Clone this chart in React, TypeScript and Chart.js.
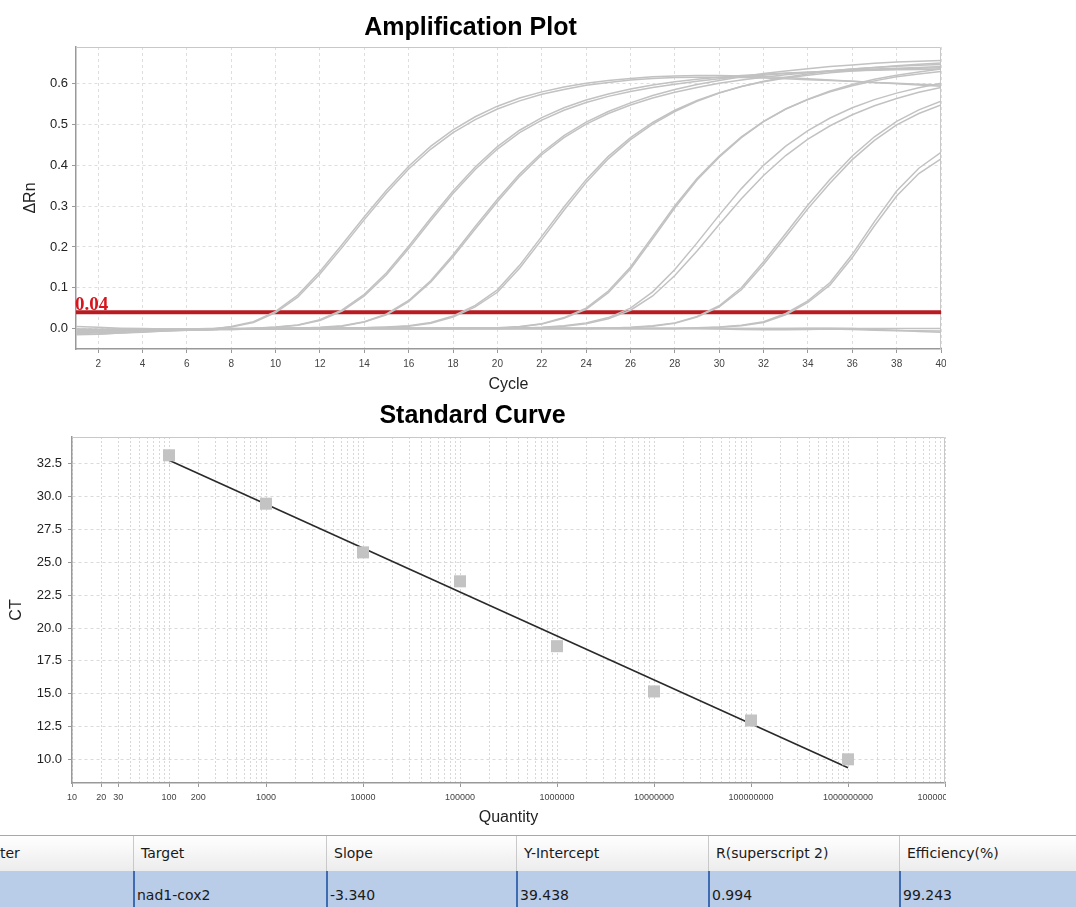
import React, { useEffect, useRef } from 'react';
import { Chart, registerables } from 'chart.js';

Chart.register(...registerables);

// ---------- Amplification plot data (ΔRn per cycle) ----------
const cycles = [
  1, 2, 3, 4, 5, 6, 7, 8, 9, 10, 11, 12, 13, 14, 15, 16, 17, 18, 19, 20,
  21, 22, 23, 24, 25, 26, 27, 28, 29, 30, 31, 32, 33, 34, 35, 36, 37, 38, 39, 40,
];
const cycleTicks = [2, 4, 6, 8, 10, 12, 14, 16, 18, 20, 22, 24, 26, 28, 30, 32, 34, 36, 38, 40];
const deltaRnTicks = [0, 0.1, 0.2, 0.3, 0.4, 0.5, 0.6];
const threshold = 0.04;

const rep1e9A = [
  -0.008, -0.010, -0.009, -0.007, -0.005, -0.003, -0.001, 0.004, 0.015, 0.039,
  0.077, 0.134, 0.199, 0.267, 0.332, 0.391, 0.440, 0.480, 0.512, 0.538,
  0.558, 0.574, 0.586, 0.596, 0.603, 0.609, 0.613, 0.615, 0.616, 0.616,
  0.615, 0.614, 0.612, 0.610, 0.608, 0.606, 0.603, 0.601, 0.599, 0.597,
];
const rep1e9B = [
  -0.012, -0.013, -0.011, -0.009, -0.006, -0.004, -0.002, 0.005, 0.017, 0.042,
  0.082, 0.140, 0.206, 0.274, 0.339, 0.398, 0.447, 0.487, 0.519, 0.545,
  0.565, 0.580, 0.592, 0.601, 0.608, 0.613, 0.617, 0.619, 0.620, 0.620,
  0.619, 0.617, 0.615, 0.612, 0.609, 0.606, 0.603, 0.600, 0.597, 0.594,
];
const rep1e8A = [
  -0.005, -0.006, -0.006, -0.005, -0.004, -0.003, -0.002, -0.001, 0.000, 0.003,
  0.008, 0.020, 0.043, 0.080, 0.132, 0.196, 0.265, 0.331, 0.390, 0.440,
  0.480, 0.511, 0.535, 0.554, 0.569, 0.581, 0.591, 0.599, 0.606, 0.612,
  0.617, 0.621, 0.625, 0.628, 0.631, 0.634, 0.636, 0.638, 0.640, 0.642,
];
const rep1e8B = [
  -0.003, -0.004, -0.004, -0.004, -0.003, -0.002, -0.002, -0.001, 0.001, 0.004,
  0.009, 0.022, 0.046, 0.084, 0.137, 0.202, 0.271, 0.337, 0.396, 0.446,
  0.486, 0.517, 0.541, 0.560, 0.575, 0.587, 0.597, 0.605, 0.611, 0.616,
  0.620, 0.623, 0.626, 0.628, 0.630, 0.632, 0.633, 0.634, 0.635, 0.636,
];
const rep1e7A = [
  -0.004, -0.004, -0.004, -0.003, -0.003, -0.002, -0.002, -0.001, -0.001, 0.000,
  0.001, 0.002, 0.006, 0.016, 0.034, 0.066, 0.114, 0.176, 0.244, 0.311,
  0.373, 0.426, 0.468, 0.501, 0.527, 0.548, 0.565, 0.579, 0.591, 0.601,
  0.609, 0.616, 0.622, 0.627, 0.632, 0.636, 0.640, 0.644, 0.648, 0.651,
];
const rep1e7B = [
  -0.006, -0.006, -0.005, -0.004, -0.003, -0.003, -0.002, -0.002, -0.001, 0.000,
  0.001, 0.003, 0.007, 0.017, 0.036, 0.069, 0.118, 0.181, 0.250, 0.317,
  0.379, 0.431, 0.473, 0.506, 0.532, 0.553, 0.571, 0.586, 0.598, 0.608,
  0.617, 0.625, 0.631, 0.637, 0.642, 0.646, 0.650, 0.653, 0.655, 0.657,
];
const rep1e6A = [
  -0.002, -0.003, -0.003, -0.003, -0.002, -0.002, -0.002, -0.001, -0.001, -0.001,
  0.000, 0.000, 0.001, 0.002, 0.003, 0.006, 0.013, 0.028, 0.053, 0.089,
  0.148, 0.218, 0.290, 0.358, 0.416, 0.463, 0.501, 0.532, 0.557, 0.577,
  0.593, 0.606, 0.616, 0.624, 0.631, 0.636, 0.640, 0.643, 0.645, 0.647,
];
const rep1e6B = [
  -0.003, -0.004, -0.004, -0.003, -0.003, -0.002, -0.002, -0.002, -0.001, -0.001,
  0.000, 0.000, 0.001, 0.002, 0.004, 0.007, 0.015, 0.031, 0.057, 0.095,
  0.155, 0.226, 0.298, 0.365, 0.422, 0.468, 0.505, 0.535, 0.559, 0.578,
  0.593, 0.605, 0.614, 0.621, 0.627, 0.631, 0.634, 0.636, 0.638, 0.639,
];
const rep1e5A = [
  -0.002, -0.002, -0.002, -0.002, -0.001, -0.001, -0.001, -0.001, 0.000, 0.000,
  0.000, 0.000, 0.000, 0.000, 0.000, 0.000, 0.000, 0.000, 0.001, 0.001,
  0.004, 0.011, 0.025, 0.047, 0.088, 0.146, 0.220, 0.296, 0.364, 0.420,
  0.468, 0.507, 0.538, 0.562, 0.582, 0.598, 0.611, 0.621, 0.629, 0.636,
];
const rep1e5B = [
  -0.004, -0.004, -0.003, -0.003, -0.002, -0.002, -0.002, -0.001, -0.001, -0.001,
  0.000, 0.000, 0.000, 0.000, 0.000, 0.000, 0.000, 0.001, 0.001, 0.002,
  0.005, 0.012, 0.027, 0.050, 0.092, 0.151, 0.226, 0.301, 0.368, 0.423,
  0.470, 0.508, 0.538, 0.561, 0.580, 0.595, 0.607, 0.617, 0.624, 0.630,
];
const rep1e4A = [
  -0.003, -0.003, -0.002, -0.002, -0.002, -0.001, -0.001, -0.001, -0.001, 0.000,
  0.000, 0.000, 0.000, 0.000, 0.000, 0.000, 0.000, 0.000, 0.000, 0.000,
  0.001, 0.003, 0.007, 0.014, 0.027, 0.050, 0.090, 0.145, 0.210, 0.278,
  0.343, 0.400, 0.447, 0.485, 0.516, 0.541, 0.561, 0.577, 0.590, 0.601,
];
const rep1e4B = [
  -0.001, -0.002, -0.002, -0.001, -0.001, -0.001, -0.001, 0.000, 0.000, 0.000,
  0.000, 0.000, 0.000, 0.000, 0.000, 0.000, 0.000, 0.000, 0.000, 0.000,
  0.001, 0.002, 0.006, 0.012, 0.024, 0.045, 0.080, 0.130, 0.190, 0.255,
  0.318, 0.375, 0.424, 0.464, 0.497, 0.524, 0.546, 0.564, 0.579, 0.591,
];
const rep1e3A = [
  -0.002, -0.002, -0.002, -0.001, -0.001, -0.001, -0.001, -0.001, 0.000, 0.000,
  0.000, 0.000, 0.000, 0.000, 0.000, 0.000, 0.000, 0.000, 0.000, 0.000,
  0.000, 0.000, 0.000, 0.000, 0.001, 0.003, 0.007, 0.014, 0.030, 0.056,
  0.100, 0.164, 0.233, 0.303, 0.366, 0.423, 0.470, 0.508, 0.536, 0.557,
];
const rep1e3B = [
  -0.004, -0.003, -0.003, -0.002, -0.002, -0.002, -0.001, -0.001, -0.001, 0.000,
  0.000, 0.000, 0.000, 0.000, 0.000, 0.000, 0.000, 0.000, 0.000, 0.000,
  0.000, 0.000, 0.000, 0.000, 0.001, 0.002, 0.006, 0.013, 0.028, 0.053,
  0.095, 0.157, 0.225, 0.294, 0.357, 0.414, 0.461, 0.499, 0.527, 0.548,
];
const rep1e2A = [
  -0.002, -0.002, -0.001, -0.001, -0.001, -0.001, 0.000, 0.000, 0.000, 0.000,
  0.000, 0.000, 0.000, 0.000, 0.000, 0.000, 0.000, 0.000, 0.000, 0.000,
  0.000, 0.000, 0.000, 0.000, 0.000, 0.000, 0.000, 0.000, 0.002, 0.004,
  0.008, 0.017, 0.037, 0.068, 0.113, 0.182, 0.262, 0.337, 0.393, 0.432,
];
const rep1e2B = [
  -0.005, -0.004, -0.003, -0.003, -0.002, -0.002, -0.001, -0.001, -0.001, 0.000,
  0.000, 0.000, 0.000, 0.000, 0.000, 0.000, 0.000, 0.000, 0.000, 0.000,
  0.000, 0.000, 0.000, 0.000, 0.000, 0.000, 0.000, 0.000, 0.001, 0.003,
  0.007, 0.015, 0.034, 0.064, 0.107, 0.174, 0.252, 0.325, 0.380, 0.416,
];
const ntcA = [
  0.005, 0.003, 0.001, 0.000, -0.001, -0.001, -0.001, -0.001, 0.000, 0.000,
  0.000, 0.000, 0.000, 0.000, 0.000, 0.000, 0.000, 0.000, 0.000, 0.000,
  0.000, 0.000, 0.000, 0.000, 0.000, 0.000, 0.000, 0.000, 0.000, 0.000,
  0.000, 0.000, 0.000, 0.000, 0.000, 0.000, 0.000, 0.000, 0.000, 0.000,
];
const ntcB = [
  -0.015, -0.014, -0.011, -0.008, -0.006, -0.004, -0.002, -0.001, -0.001, 0.000,
  0.000, 0.001, 0.001, 0.001, 0.001, 0.001, 0.001, 0.001, 0.001, 0.001,
  0.001, 0.001, 0.001, 0.001, 0.001, 0.000, 0.000, 0.000, 0.000, -0.001,
  -0.002, -0.003, -0.003, -0.002, -0.001, -0.002, -0.004, -0.005, -0.005, -0.006,
];
const ntcC = [
  -0.010, -0.008, -0.006, -0.005, -0.004, -0.003, -0.002, -0.001, -0.001, -0.001,
  -0.001, -0.001, 0.000, 0.000, 0.000, 0.000, 0.000, 0.000, 0.000, 0.000,
  0.000, 0.000, 0.000, 0.000, 0.000, 0.000, 0.000, 0.000, 0.000, 0.000,
  0.000, 0.000, 0.000, 0.001, 0.001, 0.000, -0.002, -0.004, -0.007, -0.009,
];

// ---------- Standard curve data ----------
const quantities = [100, 1000, 10000, 100000, 1000000, 10000000, 100000000, 1000000000];
const ctValues = [33.13, 29.45, 25.75, 23.55, 18.62, 15.18, 12.97, 10.02];
const ctTicks = [10, 12.5, 15, 17.5, 20, 22.5, 25, 27.5, 30, 32.5];
const labelledQuantities = [
  10, 20, 30, 100, 200, 1000, 10000, 100000, 1000000, 10000000, 100000000,
  1000000000, 10000000000,
];
const slope = -3.34;
const yIntercept = 39.438;
const rSquared = 0.994;
const efficiency = 99.243;
const targetName = 'nad1-cox2';

const SANS = '"Liberation Sans", Arial, Helvetica, sans-serif';
const TABLE_FONT = '"DejaVu Sans", Verdana, sans-serif';

// Light frame on the top and right edges of the plotting area
const framePlugin = {
  id: 'plotFrame',
  beforeDatasetsDraw(chart: any) {
    const { ctx, chartArea } = chart;
    ctx.save();
    ctx.strokeStyle = '#c8c8c8';
    ctx.lineWidth = 1;
    ctx.beginPath();
    ctx.moveTo(chartArea.left, chartArea.top + 0.5);
    ctx.lineTo(chartArea.right - 0.5, chartArea.top + 0.5);
    ctx.lineTo(chartArea.right - 0.5, chartArea.bottom);
    ctx.stroke();
    ctx.restore();
  },
};

// Threshold value printed above the threshold line
const thresholdLabelPlugin = {
  id: 'thresholdLabel',
  afterDatasetsDraw(chart: any) {
    const { ctx, chartArea } = chart;
    const y = chart.scales.y.getPixelForValue(threshold);
    ctx.save();
    ctx.font = 'bold 19px "Liberation Serif", "Times New Roman", serif';
    ctx.fillStyle = '#d8141c';
    ctx.textAlign = 'left';
    ctx.textBaseline = 'alphabetic';
    ctx.fillText(threshold.toFixed(2), chartArea.left - 1, y - 2);
    ctx.restore();
  },
};

function AmplificationPlot() {
  const ref = useRef<HTMLCanvasElement>(null);
  useEffect(() => {
    if (!ref.current) return;
    const runs = [
      ntcA, ntcB, ntcC,
      rep1e9A, rep1e9B, rep1e8A, rep1e8B, rep1e7A, rep1e7B, rep1e6A, rep1e6B,
      rep1e5A, rep1e5B, rep1e4A, rep1e4B, rep1e3A, rep1e3B, rep1e2A, rep1e2B,
    ];
    const datasets: any[] = runs.map((run) => ({
      data: run.map((v, i) => ({ x: cycles[i], y: v })),
      borderColor: '#c2c2c2',
      borderWidth: 1.5,
      pointRadius: 0,
      tension: 0,
      fill: false,
    }));
    datasets.push({
      data: [
        { x: cycles[0], y: threshold },
        { x: cycles[cycles.length - 1], y: threshold },
      ],
      borderColor: '#b81c22',
      borderWidth: 4,
      pointRadius: 0,
      fill: false,
    });

    const chart = new Chart(ref.current, {
      type: 'line',
      data: { datasets },
      options: {
        animation: false,
        responsive: false,
        events: [],
        layout: { autoPadding: false, padding: { left: 0, right: 5, top: 0, bottom: 0 } },
        plugins: {
          legend: { display: false },
          tooltip: { enabled: false },
          title: {
            display: true,
            text: 'Amplification Plot',
            color: '#000',
            font: { family: SANS, size: 25, weight: 'bold', lineHeight: 1.2 },
            padding: { top: 13, bottom: 4 },
          },
        },
        scales: {
          x: {
            type: 'linear',
            min: 1,
            max: 40,
            afterBuildTicks: (s: any) => {
              s.ticks = cycleTicks.map((v) => ({ value: v }));
            },
            afterFit: (s: any) => {
              s.height = 51;
              s.paddingLeft = 0;
              s.paddingRight = 0;
            },
            ticks: {
              autoSkip: false,
              maxRotation: 0,
              color: '#444',
              padding: 5,
              font: { family: SANS, size: 10 },
              callback: (v: any) => String(v),
            },
            grid: { color: '#dedede', tickColor: '#999', tickLength: 4, lineWidth: 1 },
            border: { color: '#999', width: 1.5, dash: [3, 3] },
            title: {
              display: true,
              text: 'Cycle',
              color: '#222',
              font: { family: SANS, size: 16, lineHeight: 1.2 },
              padding: { top: 0, bottom: 5.6 },
            },
          },
          y: {
            type: 'linear',
            min: -0.05,
            max: 0.69,
            afterBuildTicks: (s: any) => {
              s.ticks = deltaRnTicks.map((v) => ({ value: v }));
            },
            afterFit: (s: any) => {
              s.width = 76;
              s.paddingTop = 0;
              s.paddingBottom = 0;
            },
            ticks: {
              color: '#222',
              padding: 4,
              font: { family: SANS, size: 13 },
              callback: (v: any) => Number(v).toFixed(1),
            },
            grid: { color: '#dedede', tickColor: '#999', tickLength: 4, lineWidth: 1 },
            border: { color: '#999', width: 1.5, dash: [3, 3] },
            title: {
              display: true,
              text: 'ΔRn',
              color: '#222',
              font: { family: SANS, size: 16, lineHeight: 1.2 },
              padding: { top: 21.4, bottom: 0 },
            },
          },
        },
      } as any,
      plugins: [framePlugin, thresholdLabelPlugin],
    });
    return () => chart.destroy();
  }, []);
  return (
    <canvas
      ref={ref}
      width={946}
      height={400}
      style={{ position: 'absolute', left: 0, top: 0, width: 946, height: 400 }}
    />
  );
}

function StandardCurve() {
  const ref = useRef<HTMLCanvasElement>(null);
  useEffect(() => {
    if (!ref.current) return;
    const points = quantities.map((q, i) => ({ x: q, y: ctValues[i] }));
    const qFirst = quantities[0];
    const qLast = quantities[quantities.length - 1];
    const fitLine = [
      { x: qFirst, y: yIntercept + slope * Math.log10(qFirst) },
      { x: qLast, y: yIntercept + slope * Math.log10(qLast) },
    ];
    // every 1..9 multiple of each decade for the log grid
    const logTicks: number[] = [];
    for (let e = 1; e <= 9; e++) {
      for (let m = 1; m <= 9; m++) logTicks.push(m * Math.pow(10, e));
    }
    logTicks.push(Math.pow(10, 10));
    const isLabelled = (v: number) =>
      labelledQuantities.some((q) => Math.abs(q - v) / q < 1e-9);

    const chart = new Chart(ref.current, {
      type: 'scatter',
      data: {
        datasets: [
          {
            type: 'line',
            data: fitLine,
            borderColor: '#2a2a2a',
            borderWidth: 1.6,
            pointRadius: 0,
            fill: false,
            order: 2,
          },
          {
            data: points,
            pointStyle: 'rect',
            pointRadius: 8.5,
            pointBackgroundColor: '#c3c3c3',
            pointBorderWidth: 0,
            pointBorderColor: '#c3c3c3',
            order: 1,
          },
        ],
      },
      options: {
        animation: false,
        responsive: false,
        events: [],
        layout: { autoPadding: false, padding: { left: 0, right: 1, top: 0, bottom: 0 } },
        plugins: {
          legend: { display: false },
          tooltip: { enabled: false },
          title: {
            display: true,
            text: 'Standard Curve',
            color: '#000',
            font: { family: SANS, size: 25, weight: 'bold', lineHeight: 1.2 },
            padding: { top: 6, bottom: 6 },
          },
        },
        scales: {
          x: {
            type: 'logarithmic',
            min: 10,
            max: 10000000000,
            afterBuildTicks: (s: any) => {
              s.ticks = logTicks.map((v) => ({ value: v }));
            },
            afterFit: (s: any) => {
              s.height = 52;
              s.paddingLeft = 0;
              s.paddingRight = 0;
            },
            ticks: {
              autoSkip: false,
              maxRotation: 0,
              minRotation: 0,
              color: '#444',
              padding: 5,
              font: { family: SANS, size: 9 },
              callback: (v: any) => (isLabelled(Number(v)) ? String(Math.round(Number(v))) : ''),
            },
            grid: {
              color: '#d8d8d8',
              tickLength: 4,
              tickColor: (c: any) =>
                c.tick && isLabelled(c.tick.value) ? '#999' : 'rgba(0,0,0,0)',
            },
            border: { color: '#999', width: 1.5, dash: [2, 2] },
            title: {
              display: true,
              text: 'Quantity',
              color: '#222',
              font: { family: SANS, size: 16, lineHeight: 1.2 },
              padding: { top: 0, bottom: 7.4 },
            },
          },
          y: {
            type: 'linear',
            min: 8.22,
            max: 34.52,
            afterBuildTicks: (s: any) => {
              s.ticks = ctTicks.map((v) => ({ value: v }));
            },
            afterFit: (s: any) => {
              s.width = 72;
              s.paddingTop = 0;
              s.paddingBottom = 0;
            },
            ticks: {
              color: '#222',
              padding: 6,
              font: { family: SANS, size: 13 },
              callback: (v: any) => Number(v).toFixed(1),
            },
            grid: { color: '#dadada', tickColor: '#999', tickLength: 4 },
            border: { color: '#999', width: 1.5, dash: [3, 3] },
            title: {
              display: true,
              text: 'CT',
              color: '#222',
              font: { family: SANS, size: 16, lineHeight: 1.2 },
              padding: { top: 7.4, bottom: 0 },
            },
          },
        },
      } as any,
      plugins: [framePlugin],
    });
    return () => chart.destroy();
  }, []);
  return (
    <canvas
      ref={ref}
      width={946}
      height={440}
      style={{ position: 'absolute', left: 0, top: 395, width: 946, height: 440 }}
    />
  );
}

const tableColumns = [
  { header: 'Reporter', value: '', left: -48, width: 181 },
  { header: 'Target', value: targetName, left: 133, width: 193 },
  { header: 'Slope', value: slope.toFixed(3), left: 326, width: 190 },
  { header: 'Y-Intercept', value: yIntercept.toFixed(3), left: 516, width: 192 },
  { header: 'R(superscript 2)', value: rSquared.toFixed(3), left: 708, width: 191 },
  { header: 'Efficiency(%)', value: efficiency.toFixed(3), left: 899, width: 260 },
];

function ResultTable() {
  return (
    <div
      style={{
        position: 'absolute',
        left: 0,
        top: 835,
        width: 1076,
        height: 72,
        overflow: 'hidden',
        fontFamily: TABLE_FONT,
        fontSize: 14,
        color: '#1a1a1a',
      }}
    >
      <div
        style={{
          position: 'absolute',
          left: 0,
          top: 0,
          width: 1076,
          height: 36,
          borderTop: '1px solid #a8a8a8',
          boxSizing: 'border-box',
          background: 'linear-gradient(#ffffff, #ececec)',
        }}
      />
      <div
        style={{
          position: 'absolute',
          left: 0,
          top: 36,
          width: 1076,
          height: 50,
          background: '#b9cce8',
        }}
      />
      {tableColumns.map((c, i) => (
        <React.Fragment key={i}>
          <div
            style={{
              position: 'absolute',
              left: c.left,
              top: 1,
              width: c.width,
              height: 35,
              lineHeight: '35px',
              paddingLeft: 7,
              boxSizing: 'border-box',
              borderLeft: i === 0 ? 'none' : '1px solid #c9c9c9',
              whiteSpace: 'nowrap',
              overflow: 'hidden',
            }}
          >
            {c.header}
          </div>
          <div
            style={{
              position: 'absolute',
              left: c.left,
              top: 36,
              width: c.width,
              height: 50,
              lineHeight: '48px',
              paddingLeft: 2,
              boxSizing: 'border-box',
              borderLeft: i === 0 ? 'none' : '2px solid #3f6cb0',
              whiteSpace: 'nowrap',
              overflow: 'hidden',
            }}
          >
            {c.value}
          </div>
        </React.Fragment>
      ))}
    </div>
  );
}

export default function App() {
  return (
    <div
      style={{
        position: 'fixed',
        left: 0,
        top: 0,
        width: 1076,
        height: 907,
        background: '#ffffff',
        overflow: 'hidden',
      }}
    >
      <AmplificationPlot />
      <StandardCurve />
      <ResultTable />
    </div>
  );
}
